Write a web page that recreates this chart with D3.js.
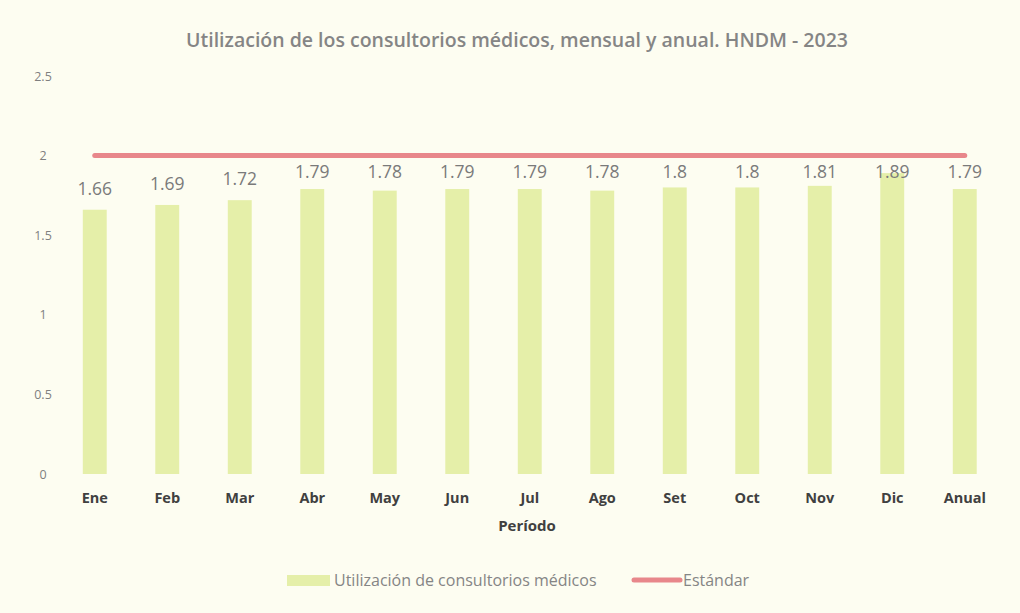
<!DOCTYPE html>
<html><head><meta charset="utf-8">
<script src="https://cdn.jsdelivr.net/npm/d3@7"></script>
<style>body{margin:0;background:#fdfdf1;}svg{display:block;}</style>
</head><body>
<svg id="c" width="1020" height="613"></svg>
<script>
const categories = ["Ene","Feb","Mar","Abr","May","Jun","Jul","Ago","Set","Oct","Nov","Dic","Anual"];
const utilizacion = [1.66,1.69,1.72,1.79,1.78,1.79,1.79,1.78,1.8,1.8,1.81,1.89,1.79];
const estandar = [2,2,2,2,2,2,2,2,2,2,2,2,2];
const yTicks = [0,0.5,1,1.5,2,2.5];

const svg = d3.select("#c");
const W = 1020, H = 613;
svg.append("rect").attr("width",W).attr("height",H).attr("fill","#fdfdf1");
const font = "'Open Sans', 'Liberation Sans', sans-serif";

const x = d3.scaleBand().domain(categories).range([58.5, 1001]).paddingInner(0.67).paddingOuter(0.335);
const y = d3.scaleLinear().domain([0,2.5]).range([474,76]);

// y axis labels
const yAxis = d3.axisLeft(y).tickValues(yTicks).tickSize(0).tickPadding(0).tickFormat(d=>String(d));
const gy = svg.append("g").attr("transform","translate(43,0)").call(yAxis);
gy.select(".domain").remove();
gy.selectAll("text").attr("fill","#7f7f7f").attr("font-size",12.5).attr("font-family",font).attr("text-anchor","middle");

// bars
svg.append("g").selectAll("rect").data(categories).join("rect")
  .attr("x",d=>x(d)).attr("width",x.bandwidth())
  .attr("y",(d,i)=>y(utilizacion[i])).attr("height",(d,i)=>y(0)-y(utilizacion[i]))
  .attr("fill","#e5efa9");

// standard line
const line = d3.line().x((d,i)=>x(categories[i])+x.bandwidth()/2).y(d=>y(d));
svg.append("path").datum(estandar).attr("d",line).attr("fill","none")
  .attr("stroke","#e8878b").attr("stroke-width",5).attr("stroke-linecap","round");

// value labels (kept below the standard line)
const minBase = y(2) + 22;
svg.append("g").selectAll("text").data(categories).join("text")
  .attr("x",d=>x(d)+x.bandwidth()/2).attr("y",(d,i)=>Math.max(y(utilizacion[i])-15, minBase))
  .attr("text-anchor","middle").attr("fill","#7a7a7a").attr("font-size",17.5)
  .attr("font-family",font).text((d,i)=>String(utilizacion[i]));

// x axis labels
const xAxis = d3.axisBottom(x).tickSize(0).tickPadding(0);
const gx = svg.append("g").attr("transform","translate(0,498)").call(xAxis);
gx.select(".domain").remove();
gx.selectAll("text").attr("fill","#404040").attr("font-size",14.5).attr("font-weight","bold").attr("font-family",font).attr("dy","0.35em");

// x axis title
svg.append("text").attr("x",527).attr("y",531).attr("text-anchor","middle")
  .attr("fill","#404040").attr("font-size",15).attr("font-weight","bold").attr("font-family",font).text("Período");

// title
svg.append("text").attr("x",517).attr("y",47).attr("text-anchor","middle")
  .attr("fill","#858585").attr("font-size",19.5).attr("font-weight","600").attr("font-family",font)
  .text("Utilización de los consultorios médicos, mensual y anual. HNDM - 2023");

// legend
const lg = svg.append("g");
lg.append("rect").attr("x",287).attr("y",575).attr("width",43).attr("height",11).attr("fill","#e5efa9");
lg.append("text").attr("x",334).attr("y",586).attr("fill","#858585").attr("font-size",16).attr("font-family",font)
  .text("Utilización de consultorios médicos");
lg.append("line").attr("x1",634).attr("x2",680).attr("y1",580).attr("y2",580).attr("stroke","#e8878b").attr("stroke-width",5).attr("stroke-linecap","round");
lg.append("text").attr("x",683).attr("y",586).attr("fill","#858585").attr("font-size",16).attr("font-family",font)
  .text("Estándar");
</script>
</body></html>
